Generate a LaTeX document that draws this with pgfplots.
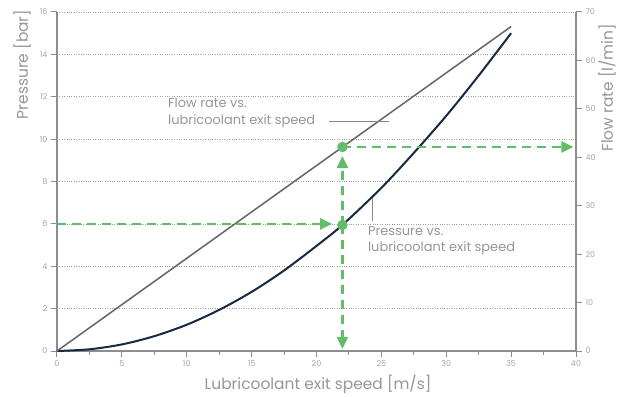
\documentclass[border=0pt]{standalone}
\usepackage{fontspec}
\setmainfont{Poppins}
\usepackage{pgfplots}
\pgfplotsset{compat=1.18}
\usetikzlibrary{arrows.meta}
\definecolor{axgray}{RGB}{140,140,146}
\definecolor{txtgray}{RGB}{150,150,150}
\definecolor{ticklab}{RGB}{165,165,165}
\definecolor{gridgray}{RGB}{160,160,160}
\definecolor{flowgray}{RGB}{100,100,100}
\definecolor{navy}{RGB}{22,42,66}
\definecolor{grn}{RGB}{98,189,105}
\begin{document}
\begin{tikzpicture}
\pgfplotsset{
  base/.style={scale only axis, width=519bp, height=339bp, xmin=0, xmax=40,
    /pgf/number format/assume math mode=true,
    tick label style={font=\fontsize{8}{9}\selectfont, text=ticklab},
    axis line style={axgray, line width=2bp},
    tick style={axgray, line width=1bp},
    major tick length=6bp, minor tick length=4bp, tick align=outside,
    clip=false}
}
% Pressure axis
\begin{axis}[base, ymin=0, ymax=16,
  axis x line*=bottom, axis y line*=left,
  xtick={0,5,...,40}, minor xtick={2.5,7.5,...,37.5},
  ytick={0,2,...,16},
  ymajorgrids, major grid style={gridgray, dotted, line width=0.6bp},
  xlabel={Lubricoolant exit speed [m/s]},
  xlabel style={font=\fontsize{15.5}{17}\selectfont, text=txtgray, at={(axis description cs:0.503,-0.0973)}, anchor=center},
  ylabel={Pressure [bar]},
  ylabel style={font=\fontsize{15.5}{17}\selectfont, text=txtgray, at={(axis description cs:-0.0674,0.845)}, anchor=center},
]
\addplot[navy, line width=2bp, smooth] coordinates {
 (0,0) (2.5,0.08) (5,0.31) (7.5,0.70) (10,1.24) (12.5,1.94) (15,2.79)
 (17.5,3.80) (20,4.96) (22,5.95) (25,7.70) (27.5,9.35) (30,11.10)
 (32.5,13.0) (35,15.0)};
\end{axis}
% Flow axis
\begin{axis}[base, ymin=0, ymax=70,
  axis x line=none, axis y line*=right,
  ytick={0,10,...,70},
  ylabel={Flow rate [l/min]},
  ylabel style={font=\fontsize{15.5}{17}\selectfont, text=txtgray, at={(axis description cs:1.0597,0.776)}, anchor=center},
]
\addplot[flowgray, line width=1.5bp] coordinates {(0,0) (35,67)};
\end{axis}
% Overlay (pressure units)
\begin{axis}[base, ymin=0, ymax=16, hide axis]
\addplot[txtgray!90!black, line width=1bp] coordinates {(21.0,10.81) (25.6,10.81)};
\addplot[txtgray!90!black, line width=1bp] coordinates {(24.35,7.22) (24.35,6.14)};
\addplot[grn, line width=2.5bp, dash pattern=on 9bp off 6bp, -{Triangle[length=12bp,width=11bp]}] coordinates {(0,6) (21.2,6)};
\addplot[grn, line width=2.5bp, dash pattern=on 9bp off 6bp, -{Triangle[length=12bp,width=11bp]}] coordinates {(22,5.95) (22,0.1)};
\addplot[grn, line width=2.5bp, dash pattern=on 9bp off 6bp, -{Triangle[length=12bp,width=11bp]}] coordinates {(22,5.95) (22,9.2)};
\addplot[grn, line width=2.5bp, dash pattern=on 9bp off 6bp, -{Triangle[length=12bp,width=11bp]}] coordinates {(22,9.63) (39.8,9.63)};
\addplot[only marks, mark=*, mark size=5bp, grn] coordinates {(22,5.95) (22,9.63)};
\node[anchor=west, align=left, font=\fontsize{13}{17}\selectfont, text=txtgray] at (axis cs:8.3,11.22) {Flow rate vs.\\lubricoolant exit speed};
\node[anchor=west, align=left, font=\fontsize{13}{16}\selectfont, text=txtgray] at (axis cs:23.7,5.2) {Pressure vs.\\lubricoolant exit speed};
\end{axis}
\path (current axis.south west) ++(-57bp,-45bp) rectangle ++(632bp,396bp);
\end{tikzpicture}
\end{document}
